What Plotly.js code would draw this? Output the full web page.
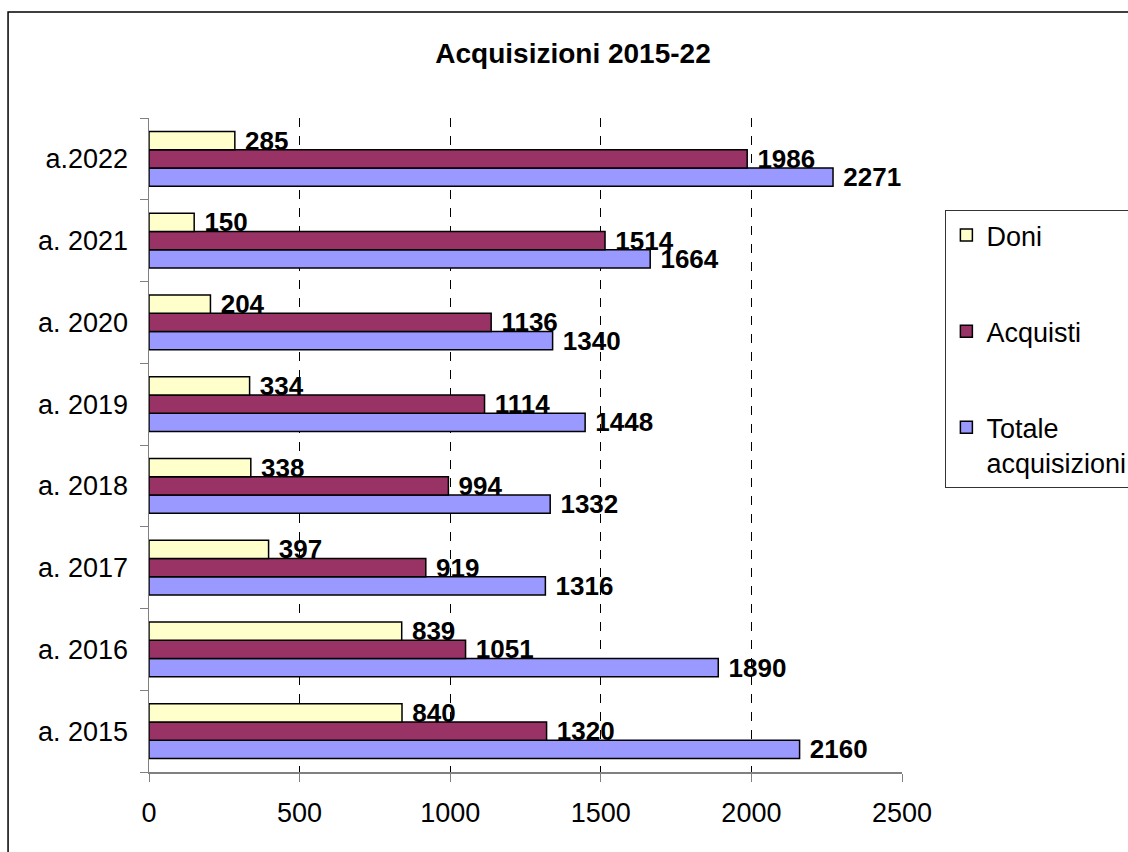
<!DOCTYPE html>
<html>
<head>
<meta charset="utf-8">
<script src="https://cdn.plot.ly/plotly-3.0.1.min.js"></script>
<style>html,body{margin:0;padding:0;background:#fff;}#chart{width:1128px;height:852px;}</style>
</head>
<body>
<div id="chart"></div>
<script>
const categories = ['a. 2015','a. 2016','a. 2017','a. 2018','a. 2019','a. 2020','a. 2021','a.2022'];
const doni = [840, 839, 397, 338, 334, 204, 150, 285];
const acquisti = [1320, 1051, 919, 994, 1114, 1136, 1514, 1986];
const totale = [2160, 1890, 1316, 1332, 1448, 1340, 1664, 2271];
const xTicks = [0, 500, 1000, 1500, 2000, 2500];

const FONT = 'Liberation Sans, Arial, sans-serif';
const W = 1128, H = 852;
const L = 149, R = 902.3, T = 118, B = 771.7;
const pw = R - L, ph = B - T;
const px = v => (v - L) / pw;
const py = v => (B - v) / ph;

function mk(name, vals, color, group, rank) {
  return {
    type: 'bar', orientation: 'h', name: name, y: categories, x: vals,
    legendgroup: group, legendrank: rank,
    marker: {color: color, line: {color: '#000', width: 1.5}},
    text: vals.map(v => ' ' + v), textposition: 'outside',
    constraintext: 'none', cliponaxis: false,
    textfont: {family: FONT, size: 26, color: '#000', weight: 'bold'},
    hoverinfo: 'x+name'
  };
}

const data = [
  mk('Totale<br>acquisizioni\u00a0\u00a0\u00a0\u00a0\u00a0\u00a0\u00a0\u00a0', totale, '#9999FF', 'c', 3),
  mk('Acquisti', acquisti, '#993366', 'b', 2),
  mk('Doni', doni, '#FFFFCC', 'a', 1)
];

const layout = {
  width: W, height: H,
  paper_bgcolor: '#fff', plot_bgcolor: '#fff',
  margin: {l: L, r: W - R, t: T, b: H - B, autoexpand: false},
  font: {family: FONT, size: 27, color: '#000'},
  title: {text: 'Acquisizioni 2015-22', font: {family: FONT, size: 28, weight: 'bold', color: '#000'},
          x: 573 / W, xanchor: 'center', y: 1 - 53 / H, yanchor: 'middle'},
  barmode: 'group', bargap: 0.33, bargroupgap: 0,
  showlegend: true,
  legend: {x: px(945.7), xanchor: 'left', y: py(210), yanchor: 'top',
           bordercolor: '#333', borderwidth: 1, bgcolor: '#fff',
           font: {family: FONT, size: 27, color: '#000'},
           traceorder: 'grouped', tracegroupgap: 58, valign: 'top'},
  xaxis: {range: [0, 2500], tickvals: xTicks, ticktext: xTicks.map(String),
          ticks: 'outside', ticklen: 8, tickcolor: '#808080', tickwidth: 1,
          showline: true, linecolor: '#808080', linewidth: 1.5,
          showgrid: true, gridcolor: '#000', gridwidth: 1, griddash: 'dash',
          zeroline: false, ticklabelstandoff: 8,
          tickfont: {family: FONT, size: 27, color: '#000'}, fixedrange: true},
  yaxis: {type: 'category', categoryorder: 'array', categoryarray: categories,
          ticks: 'outside', ticklen: 8, tickcolor: '#808080', tickwidth: 1,
          tickson: 'boundaries', showline: true, linecolor: '#808080', linewidth: 1.5,
          showgrid: false, zeroline: false, ticklabelstandoff: 14,
          tickfont: {family: FONT, size: 27, color: '#000'}, fixedrange: true},
  shapes: [
    {type: 'rect', xref: 'paper', yref: 'paper', layer: 'below',
     x0: px(8), x1: px(1300), y0: py(1000), y1: py(12),
     line: {color: '#000', width: 1.5}, fillcolor: 'rgba(0,0,0,0)'}
  ]
};

Plotly.newPlot('chart', data, layout, {displayModeBar: false, staticPlot: true});
</script>
</body>
</html>
